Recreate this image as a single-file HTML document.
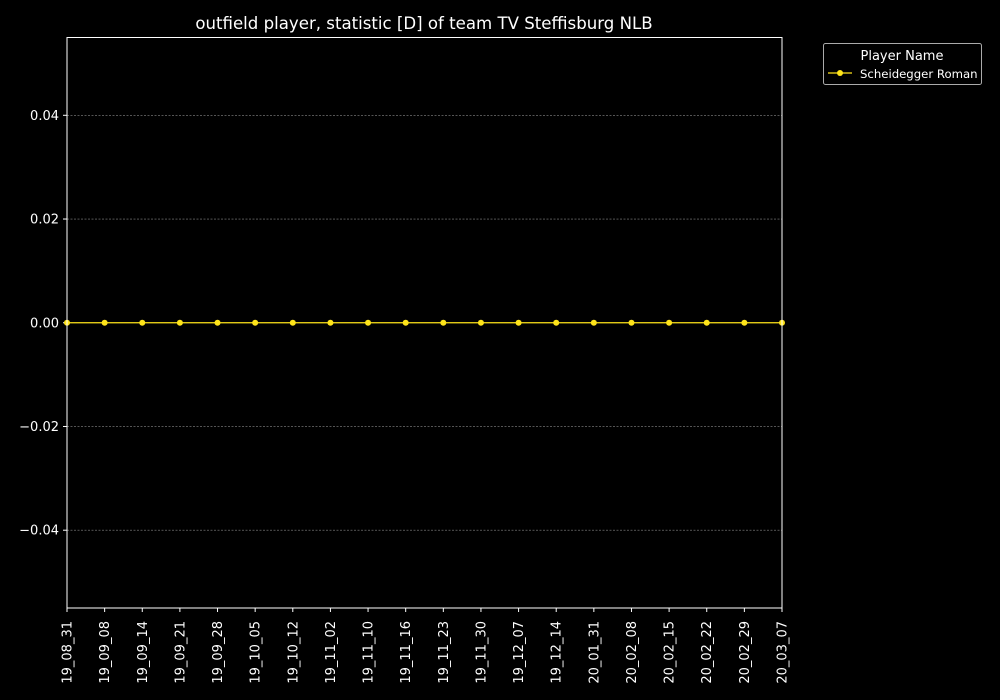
<!DOCTYPE html>
<html><head><meta charset="utf-8"><style>
body{margin:0;background:#000;}
svg{display:block;font-family:"DejaVu Sans","Liberation Sans",sans-serif;}
</style></head><body>
<svg id="chart" width="1000" height="700" xmlns="http://www.w3.org/2000/svg">
<rect width="1000" height="700" fill="#000"/>
<text x="424" y="29" fill="#fff" font-size="16.6" text-anchor="middle">outfield player, statistic [D] of team TV Steffisburg NLB</text>
<g id="grid"></g><g id="yaxis"></g><g id="xaxis"></g><g id="series"></g>
<rect x="67" y="37.5" width="715" height="570.5" fill="none" stroke="#fff" stroke-width="1"/>
<g>
<rect x="823.5" y="43.5" width="158" height="41" rx="2" fill="#000" stroke="#aaa"/>
<text x="902" y="60" fill="#fff" font-size="13" text-anchor="middle">Player Name</text>
<line x1="828" y1="73" x2="852" y2="73" stroke="#ffe41a" stroke-width="1.3"/>
<circle cx="840" cy="73" r="3" fill="#ffe41a"/>
<text x="860" y="78" fill="#fff" font-size="11.7">Scheidegger Roman</text>
</g>
</svg>
<script>
const categories=["19_08_31","19_09_08","19_09_14","19_09_21","19_09_28","19_10_05","19_10_12","19_11_02","19_11_10","19_11_16","19_11_23","19_11_30","19_12_07","19_12_14","20_01_31","20_02_08","20_02_15","20_02_22","20_02_29","20_03_07"];
const values=[0,0,0,0,0,0,0,0,0,0,0,0,0,0,0,0,0,0,0,0];
const yTicks=[-0.04,-0.02,0,0.02,0.04];
const yTickLabels=["\u22120.04","\u22120.02","0.00","0.02","0.04"];
const NS="http://www.w3.org/2000/svg";
const X0=67,X1=782,Y0=608,Y1=37.5,YMIN=-0.055,YMAX=0.055;
function xs(i){return X0+i*(X1-X0)/(categories.length-1);}
function ys(v){return Y0-(v-YMIN)/(YMAX-YMIN)*(Y0-Y1);}
function mk(t,a,p){const e=document.createElementNS(NS,t);for(const k in a)e.setAttribute(k,a[k]);p.appendChild(e);return e;}
const grid=document.getElementById('grid'),ya=document.getElementById('yaxis'),xa=document.getElementById('xaxis'),se=document.getElementById('series');
yTicks.forEach((v,i)=>{
 const y=ys(v);
 const g=mk('line',{x1:X0,x2:X1,y1:y,y2:y,stroke:'#888','stroke-width':0.6,'stroke-dasharray':'2,1.5'},grid);
 
 
 const t=mk('line',{x1:X0-4,x2:X0,y1:y,y2:y,stroke:'#fff'},ya);
 
 
 const l=mk('text',{x:X0-8,y:y+4.5,fill:'#fff','font-size':13,'text-anchor':'end'},ya);
 l.textContent=yTickLabels[i];
 
 
});
categories.forEach((c,i)=>{
 const x=xs(i);
 const t=mk('line',{x1:x,x2:x,y1:Y0,y2:Y0+4,stroke:'#fff'},xa);
 
 
 const l=mk('text',{x:0,y:0,fill:'#fff','font-size':13,'text-anchor':'end',transform:`translate(${x+4.5},${Y0+13}) rotate(-90)`},xa);
 l.textContent=c;
 
 
});
const pl=mk('polyline',{points:values.map((v,i)=>xs(i)+','+ys(v)).join(' '),fill:'none',stroke:'#ffe41a','stroke-width':1.3},se);


values.forEach((v,i)=>{
 const c=mk('circle',{cx:xs(i),cy:ys(v),r:3,fill:'#ffe41a'},se);
 
 
});
</script>
</body></html>
